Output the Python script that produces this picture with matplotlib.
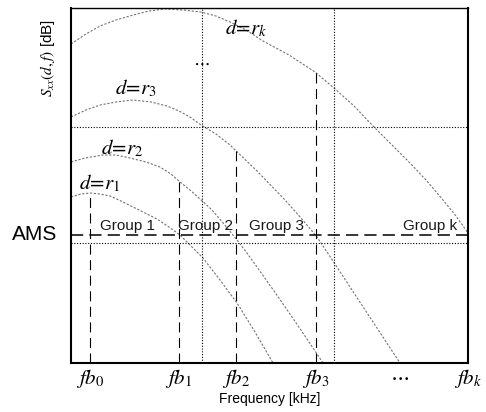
import numpy as np
from matplotlib import pyplot as plt

plt.rcParams['mathtext.fontset'] = 'stix'
plt.rcParams['font.family'] = ['Liberation Sans', 'DejaVu Sans']

# frequency (arbitrary units) and level (arbitrary dB units)
f_rk = [0, 15, 29, 45, 62, 78, 94, 112, 130, 145, 159, 175, 192, 218, 244, 263,
        283, 302, 320, 339, 355, 372, 385, 397]
L_rk = [319, 329, 337, 343, 348, 352, 354, 353, 351, 347, 341, 333, 322, 308, 291, 275,
        257, 237, 219, 200, 183, 163, 147, 130]
f_r3 = [0, 15, 29, 45, 62, 80, 96, 108, 119, 130, 145, 159, 186, 214, 230, 246,
        262, 279, 304, 329]
L_r3 = [246, 253, 258, 261, 263, 261, 257, 252, 246, 238, 229, 218, 192, 163, 145, 126,
        102, 76, 38, 0]
f_r2 = [0, 14, 32, 45, 59, 75, 89, 100, 109, 119, 129, 141, 153, 166, 176, 186,
        203, 219, 236, 252]
L_r2 = [201, 205, 208, 208, 205, 201, 196, 189, 181, 173, 164, 153, 139, 123, 110, 96,
        72, 49, 24, 0]
f_r1 = [0, 10, 19, 29, 39, 50, 62, 74, 86, 98, 109, 120, 132, 149, 166, 184, 202]
L_r1 = [166, 169, 170, 169, 167, 162, 156, 150, 144, 136, 128, 117, 105, 83, 60, 31, 0]

fb = [19, 108, 165, 245]          # fb0..fb3 cut-off frequencies
tick_pos = [19, 108, 165, 245, 329, 397]
tick_labels = ['$fb_0$', '$fb_1$', '$fb_2$', '$fb_3$', r'$\cdots$', '$fb_k$']
ams = 128
grid_f = [131, 263]
grid_L = [236, 120]

curve_labels = ['$d\\!=\\!r_1$', '$d\\!=\\!r_2$', '$d\\!=\\!r_3$', '$d\\!=\\!r_k$']
curve_label_f = [29, 51, 65, 175]
curve_label_L = [180, 215, 275, 335]
groups = ['Group 1', 'Group 2', 'Group 3', 'Group k']
group_f = [56, 134, 205, 359]

fig = plt.figure(figsize=(4.86, 4.12), dpi=100)
ax = fig.add_axes([71/486, 49/412, 397/486, 355/412])

curve_style = dict(color='0.45', lw=0.8, ls=(0, (2, 1.5)))
curves = [(f_r1, L_r1), (f_r2, L_r2), (f_r3, L_r3), (f_rk, L_rk)]
for cf, cl in curves:
    ax.plot(cf, cl, **curve_style)

# dashed cut-off lines from each curve down to the axis
for x, (cf, cl) in zip(fb, curves):
    top = np.interp(x, cf, cl)
    ax.plot([x, x], [0, top], color='k', lw=0.8, ls=(0, (9, 5)))

for x in grid_f:
    ax.axvline(x, color='k', lw=0.8, ls=(0, (1, 1.5)))
for y in grid_L:
    ax.axhline(y, color='k', lw=0.8, ls=(0, (1, 1.5)))
ax.axhline(ams, color='k', lw=1.1, ls=(0, (8, 4)))

for txt, x, y in zip(curve_labels, curve_label_f, curve_label_L):
    ax.text(x, y, txt, fontsize=15, ha='center', va='center', style='italic')
ax.text(130, 300, r'$\cdots$', fontsize=13, ha='center', va='center')

for g, x in zip(groups, group_f):
    ax.text(x, 137, g, fontsize=11, ha='center', va='center', color='0.1')
ax.text(-36, ams, 'AMS', fontsize=15, ha='center', va='center', clip_on=False)

ax.set_xlim(0, 397)
ax.set_ylim(0, 355)
ax.set_xticks(tick_pos)
ax.set_xticklabels(tick_labels, fontsize=15)
ax.tick_params(axis='x', length=0, pad=3)
ax.set_yticks([])
ax.set_xlabel('Frequency [kHz]', fontsize=10, labelpad=1)
ax.set_ylabel('$S_{xx}(d,f)$ [dB]', fontsize=11)
ax.yaxis.set_label_coords(-0.035, 0.86)
for s in ['left', 'bottom', 'right']:
    ax.spines[s].set_linewidth(1.5)
ax.spines['top'].set_linewidth(1.0)

plt.savefig('out.png')
